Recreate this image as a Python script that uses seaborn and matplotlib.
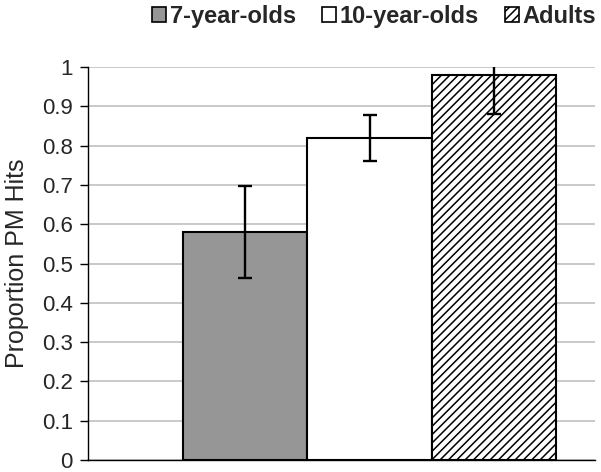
import matplotlib
matplotlib.use("Agg")
import matplotlib.pyplot as plt
from matplotlib.patches import Patch
import seaborn as sns

# data
groups = ["7-year-olds", "10-year-olds", "Adults"]
hits = [0.58, 0.82, 0.98]
err = [0.117, 0.058, 0.10]
fills = ["#969696", "#ffffff", "#ffffff"]
hatches = ["", "", "////"]
yticks = [0, 0.1, 0.2, 0.3, 0.4, 0.5, 0.6, 0.7, 0.8, 0.9, 1]
ytick_labels = ["0", "0.1", "0.2", "0.3", "0.4", "0.5", "0.6", "0.7", "0.8", "0.9", "1"]

sns.set_theme(style="white")
plt.rcParams['font.family'] = ['Liberation Sans', 'DejaVu Sans']
plt.rcParams['hatch.linewidth'] = 1.1

fig = plt.figure(figsize=(6.01, 4.72), dpi=100)
ax = fig.add_axes([0.1464, 0.0254, 0.8436, 0.8326])

sns.barplot(x=groups, y=hits, hue=groups, palette=fills, edgecolor="black",
            linewidth=1.5, width=1, legend=False, ax=ax, zorder=2)
for p, h in zip(ax.patches, hatches):
    p.set_hatch(h)

ax.errorbar(range(len(groups)), hits, yerr=err, fmt="none", ecolor="black",
            elinewidth=1.7, capsize=5, capthick=1.7, zorder=3)

ax.set_ylim(0, 1)
ax.set_xlim(-1.26, 2.81)
ax.set_yticks(yticks)
ax.set_yticklabels(ytick_labels, fontsize=16)
ax.set_xticks([])
ax.set_xlabel("")
ax.set_ylabel("Proportion PM Hits", fontsize=18, labelpad=9)
ax.yaxis.grid(True, color="#c0c0c0", linewidth=1.2, zorder=0)
ax.set_axisbelow(True)
ax.tick_params(axis="y", which="major", left=True, length=6, width=1, color="black", pad=5)

for s in ["top", "right"]:
    ax.spines[s].set_visible(False)
for s in ["left", "bottom"]:
    ax.spines[s].set_color("black")
    ax.spines[s].set_linewidth(1)

handles = [Patch(facecolor=c, edgecolor="black", hatch=h, linewidth=1.2)
           for c, h in zip(fills, hatches)]
fig.legend(handles, groups, loc="center right", bbox_to_anchor=(0.992, 0.966), ncol=3,
           frameon=False, prop={"size": 17, "weight": "bold"},
           handlelength=0.6, handleheight=0.6,
           handletextpad=0.15, columnspacing=1.1, borderpad=0, borderaxespad=0)

fig.savefig("out.png", dpi=100)
